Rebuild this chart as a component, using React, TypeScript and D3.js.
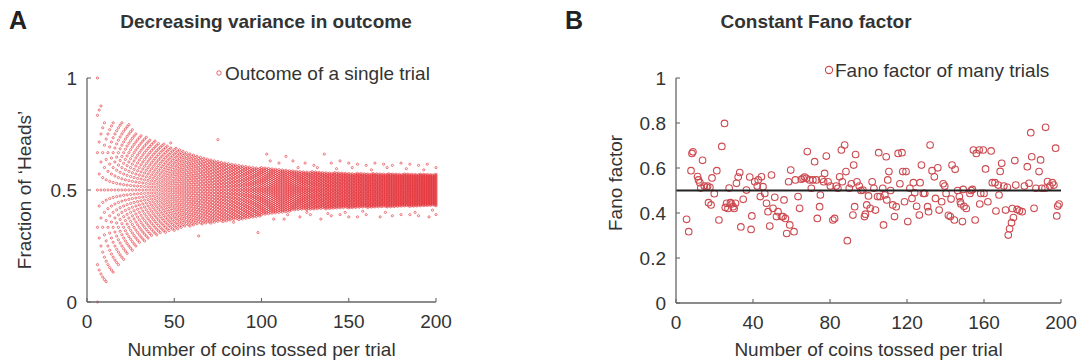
import React from "react";
import * as d3 from "d3";

const envN = [6, 8, 10, 15, 20, 25, 30, 40, 50, 60, 70, 80, 90, 100, 120, 150, 200];
const outerHi = [1.0, 0.88, 0.82, 0.8, 0.8, 0.79, 0.75, 0.72, 0.69, 0.66, 0.64, 0.62, 0.61, 0.6, 0.585, 0.575, 0.57];
const outerLo = [0.0, 0.12, 0.08, 0.13, 0.18, 0.22, 0.26, 0.3, 0.32, 0.34, 0.35, 0.36, 0.37, 0.385, 0.41, 0.42, 0.43];
// sparse outlying outcomes
const outlierN = [48, 64, 75, 84, 98, 103, 105, 107, 110, 113, 114, 115, 118, 122, 125, 128, 130, 134, 136, 140, 140, 145, 145, 150, 150, 155, 155, 160, 160, 165, 168, 170, 175, 175, 180, 180, 185, 185, 190, 190, 195, 196, 200, 200, 121, 132, 143, 152, 163, 172, 183, 193, 126, 138, 148, 158, 171, 188, 198];
const outlierV = [0.71, 0.295, 0.725, 0.356, 0.31, 0.66, 0.63, 0.37, 0.62, 0.37, 0.65, 0.39, 0.63, 0.38, 0.62, 0.39, 0.61, 0.37, 0.66, 0.62, 0.385, 0.63, 0.39, 0.62, 0.38, 0.615, 0.38, 0.61, 0.39, 0.62, 0.38, 0.615, 0.61, 0.385, 0.62, 0.39, 0.615, 0.39, 0.61, 0.385, 0.615, 0.38, 0.6, 0.39, 0.6, 0.6, 0.595, 0.6, 0.59, 0.6, 0.595, 0.59, 0.4, 0.395, 0.4, 0.405, 0.4, 0.4, 0.41];

// ---------- Panel B: Fano factor per n ----------
const fanoN = [5.5, 6.6, 7.8, 8.3, 8.8, 11.2, 11.7, 12.4, 12.9, 13.8, 14.7, 15.9, 16.4, 16.9, 17.6, 18.2, 18.7, 19.9, 21.2, 22.3, 23.8, 25.2, 25.6, 26.3, 27, 27.6, 28.3, 28.8, 29.7, 30.2, 30.9, 31.4, 32.3, 33.1, 33.7, 34.9, 36.6, 38.3, 39, 39.4,
  40.9, 42.2, 42.7, 43.8, 44.4, 45.2, 46.1, 47, 47.8, 48.7, 49.6, 50.4, 51.3, 52.2, 53, 54.8, 55.6, 56.1, 56.8, 57.5, 58.5, 59.1, 59.6, 61.3, 62, 63.4, 64.2, 65.1, 66, 66.8, 67.7, 68.2, 69.4, 70.3, 71.1, 72, 72.9, 73.4, 74.6, 75, 75.8, 76.7, 77.2, 78.1, 79,
  80.2, 81.5, 82.4, 83.2, 84.1, 85, 85.9, 86.4, 87.6, 88.3, 89, 90, 91.1, 91.9, 92.3, 92.8, 93.3, 94, 95.2, 96.1, 97.1, 97.9, 98.4, 99.1, 100, 100.9, 101.9, 102.8, 103.6, 104.7, 105.3, 106, 107.4, 107.8, 108.5, 109.2, 109.5, 110, 110.6, 111.5, 112.6, 113.5, 114.4, 115.4, 116.3, 117.4, 117.8, 118.7, 119.5,
  120.4, 121.5, 122.6, 123.3, 124, 125, 126.4, 126.8, 127.5, 128.5, 129.2, 130.7, 131.2, 132, 133, 134.2, 134.8, 136, 136.7, 138, 138.8, 139.6, 140.3, 141.5, 142.5, 142.9, 143.4, 144.6, 145, 146.3, 147.2, 147.7, 148, 148.8, 149.2, 149.6, 150.8, 152.7, 153.3, 154, 154.5, 155.4, 156, 157.5, 157.8, 158.3, 159.6,
  160, 160.8, 162, 163.7, 164.3, 165.7, 166.2, 167.4, 167.8, 168.4, 169.2, 170.3, 171.2, 172.1, 172.6, 173.3, 174.3, 174.7, 175.3, 176, 176.5, 177.2, 178.4, 179.8, 181, 182.5, 183.4, 184.3, 184.8, 186, 187, 188.6, 189.4, 190, 191.7, 192, 193, 194.2, 195.5, 196.3, 197.2, 197.8, 198.3, 199];
const fanoV = [0.372, 0.317, 0.588, 0.665, 0.672, 0.562, 0.547, 0.535, 0.511, 0.634, 0.52, 0.514, 0.52, 0.446, 0.514, 0.436, 0.556, 0.486, 0.588, 0.369, 0.696, 0.798, 0.425, 0.443, 0.42, 0.511, 0.446, 0.44, 0.428, 0.42, 0.443, 0.532, 0.56, 0.58, 0.338, 0.461, 0.502, 0.56, 0.327, 0.387,
  0.539, 0.52, 0.547, 0.473, 0.561, 0.517, 0.487, 0.443, 0.406, 0.342, 0.569, 0.421, 0.47, 0.384, 0.406, 0.384, 0.384, 0.458, 0.376, 0.309, 0.539, 0.347, 0.591, 0.317, 0.547, 0.473, 0.421, 0.55, 0.554, 0.56, 0.554, 0.673, 0.547, 0.51, 0.547, 0.628, 0.547, 0.376, 0.428, 0.48, 0.55, 0.539, 0.576, 0.653, 0.539,
  0.52, 0.369, 0.376, 0.52, 0.51, 0.561, 0.68, 0.539, 0.702, 0.584, 0.277, 0.51, 0.53, 0.391, 0.613, 0.428, 0.66, 0.539, 0.52, 0.5, 0.502, 0.384, 0.395, 0.436, 0.476, 0.421, 0.539, 0.51, 0.413, 0.473, 0.668, 0.473, 0.51, 0.347, 0.48, 0.65, 0.458, 0.547, 0.584, 0.5, 0.436, 0.384, 0.428, 0.665, 0.53, 0.668, 0.584, 0.45, 0.584,
  0.362, 0.51, 0.465, 0.535, 0.49, 0.43, 0.391, 0.535, 0.613, 0.487, 0.487, 0.428, 0.406, 0.702, 0.588, 0.561, 0.465, 0.601, 0.413, 0.45, 0.53, 0.52, 0.487, 0.39, 0.384, 0.462, 0.613, 0.369, 0.594, 0.5, 0.473, 0.45, 0.44, 0.362, 0.505, 0.43, 0.42, 0.487, 0.5, 0.505, 0.68, 0.369, 0.665, 0.68, 0.44, 0.487, 0.68,
  0.487, 0.596, 0.45, 0.676, 0.535, 0.535, 0.409, 0.524, 0.48, 0.585, 0.621, 0.52, 0.413, 0.514, 0.302, 0.33, 0.357, 0.42, 0.38, 0.633, 0.524, 0.416, 0.41, 0.406, 0.52, 0.606, 0.532, 0.757, 0.65, 0.421, 0.51, 0.584, 0.636, 0.51, 0.51, 0.781, 0.54, 0.52, 0.535, 0.524, 0.688, 0.387, 0.431, 0.44];
const fanoMean = 0.5;

const ticksAX = [0, 50, 100, 150, 200];
const ticksAY = [0, 0.5, 1];
const ticksBX = [0, 40, 80, 120, 160, 200];
const ticksBY = [0, 0.2, 0.4, 0.6, 0.8, 1];

const FONT = "'Liberation Sans', Arial, Helvetica, sans-serif";
const AXIS = "#666";
const TXT = "#333";
const FS = 19;

function Axes({ x, y, xt, yt, yfmt }: any) {
  const [x0, x1] = x.range();
  const [y0, y1] = y.range();
  return (
    <g fontFamily={FONT} fontSize={FS} fill={TXT}>
      <line x1={x0} x2={x1} y1={y0} y2={y0} stroke={AXIS} strokeWidth={1.3} />
      <line x1={x0} x2={x0} y1={y0} y2={y1} stroke={AXIS} strokeWidth={1.3} />
      {xt.map((t: number) => (
        <g key={"x" + t}>
          <line x1={x(t)} x2={x(t)} y1={y0} y2={y0 - 4} stroke={AXIS} strokeWidth={1.1} />
          <text x={x(t)} y={y0 + 26} textAnchor="middle">{String(t)}</text>
        </g>
      ))}
      {yt.map((t: number) => (
        <g key={"y" + t}>
          <line x1={x0} x2={x0 + 4} y1={y(t)} y2={y(t)} stroke={AXIS} strokeWidth={1.1} />
          <text x={x0 - 10} y={y(t)} dy="0.35em" textAnchor="end">{yfmt(t)}</text>
        </g>
      ))}
    </g>
  );
}

export default function App() {
  // Panel A
  const xA = d3.scaleLinear().domain([0, 200]).range([87, 436]);
  const yA = d3.scaleLinear().domain([0, 1]).range([302, 78]);
  const hiS = d3.scaleLinear().domain(envN).range(outerHi).clamp(true);
  const loS = d3.scaleLinear().domain(envN).range(outerLo).clamp(true);
  const ptsA: [number, number][] = [];
  for (let n = envN[0]; n <= 200; n++) {
    const kLo = Math.ceil(loS(n) * n - 1e-9);
    const kHi = Math.floor(hiS(n) * n + 1e-9);
    for (let k = kLo; k <= kHi; k++) ptsA.push([n, k / n]);
  }
  outlierN.forEach((n, i) => ptsA.push([n, outlierV[i]]));

  // Panel B
  const xB = d3.scaleLinear().domain([0, 200]).range([676, 1061]);
  const yB = d3.scaleLinear().domain([0, 1]).range([303, 78]);

  const fmt = (t: number) => String(t);

  return (
    <svg width={1083} height={364} style={{ position: "absolute", left: 0, top: 0, background: "#fff" }}>
      {/* Panel A */}
      <text x={9} y={29} fontFamily={FONT} fontWeight="bold" fontSize={25} fill="#222">A</text>
      <text x={266} y={28} textAnchor="middle" fontFamily={FONT} fontWeight="bold" fontSize={19} fill={TXT}>Decreasing variance in outcome</text>
      <g>
        {ptsA.map((p, i) => (
          <circle key={i} cx={xA(p[0])} cy={yA(p[1])} r={1.1} fill="none" stroke="#e4323a" strokeWidth={0.7} strokeOpacity={0.9} />
        ))}
      </g>
      <Axes x={xA} y={yA} xt={ticksAX} yt={ticksAY} yfmt={fmt} />
      <circle cx={219} cy={73} r={2.2} fill="none" stroke="#d9565c" strokeWidth={0.9} />
      <text x={225} y={79.5} fontFamily={FONT} fontSize={FS} fill={TXT}>Outcome of a single trial</text>
      <text x={261.5} y={356} textAnchor="middle" fontFamily={FONT} fontSize={FS} fill={TXT}>Number of coins tossed per trial</text>
      <text transform="translate(31,190) rotate(-90)" textAnchor="middle" fontFamily={FONT} fontSize={FS} fill={TXT}>Fraction of ‘Heads’</text>

      {/* Panel B */}
      <text x={565} y={29} fontFamily={FONT} fontWeight="bold" fontSize={25} fill="#222">B</text>
      <text x={816} y={28} textAnchor="middle" fontFamily={FONT} fontWeight="bold" fontSize={19} fill={TXT}>Constant Fano factor</text>
      <g>
        {fanoN.map((n, i) => (
          <circle key={i} cx={xB(n)} cy={yB(fanoV[i])} r={3.3} fill="none" stroke="#cc4a50" strokeWidth={1.1} />
        ))}
      </g>
      <line x1={xB(0)} x2={xB(200)} y1={yB(fanoMean)} y2={yB(fanoMean)} stroke="#222" strokeWidth={2} />
      <Axes x={xB} y={yB} xt={ticksBX} yt={ticksBY} yfmt={fmt} />
      <circle cx={829} cy={70} r={3.6} fill="none" stroke="#cc4a50" strokeWidth={1.1} />
      <text x={835} y={77} fontFamily={FONT} fontSize={FS} fill={TXT}>Fano factor of many trials</text>
      <text x={868.5} y={356} textAnchor="middle" fontFamily={FONT} fontSize={FS} fill={TXT}>Number of coins tossed per trial</text>
      <text transform="translate(622,183) rotate(-90)" textAnchor="middle" fontFamily={FONT} fontSize={FS} fill={TXT}>Fano factor</text>
    </svg>
  );
}
